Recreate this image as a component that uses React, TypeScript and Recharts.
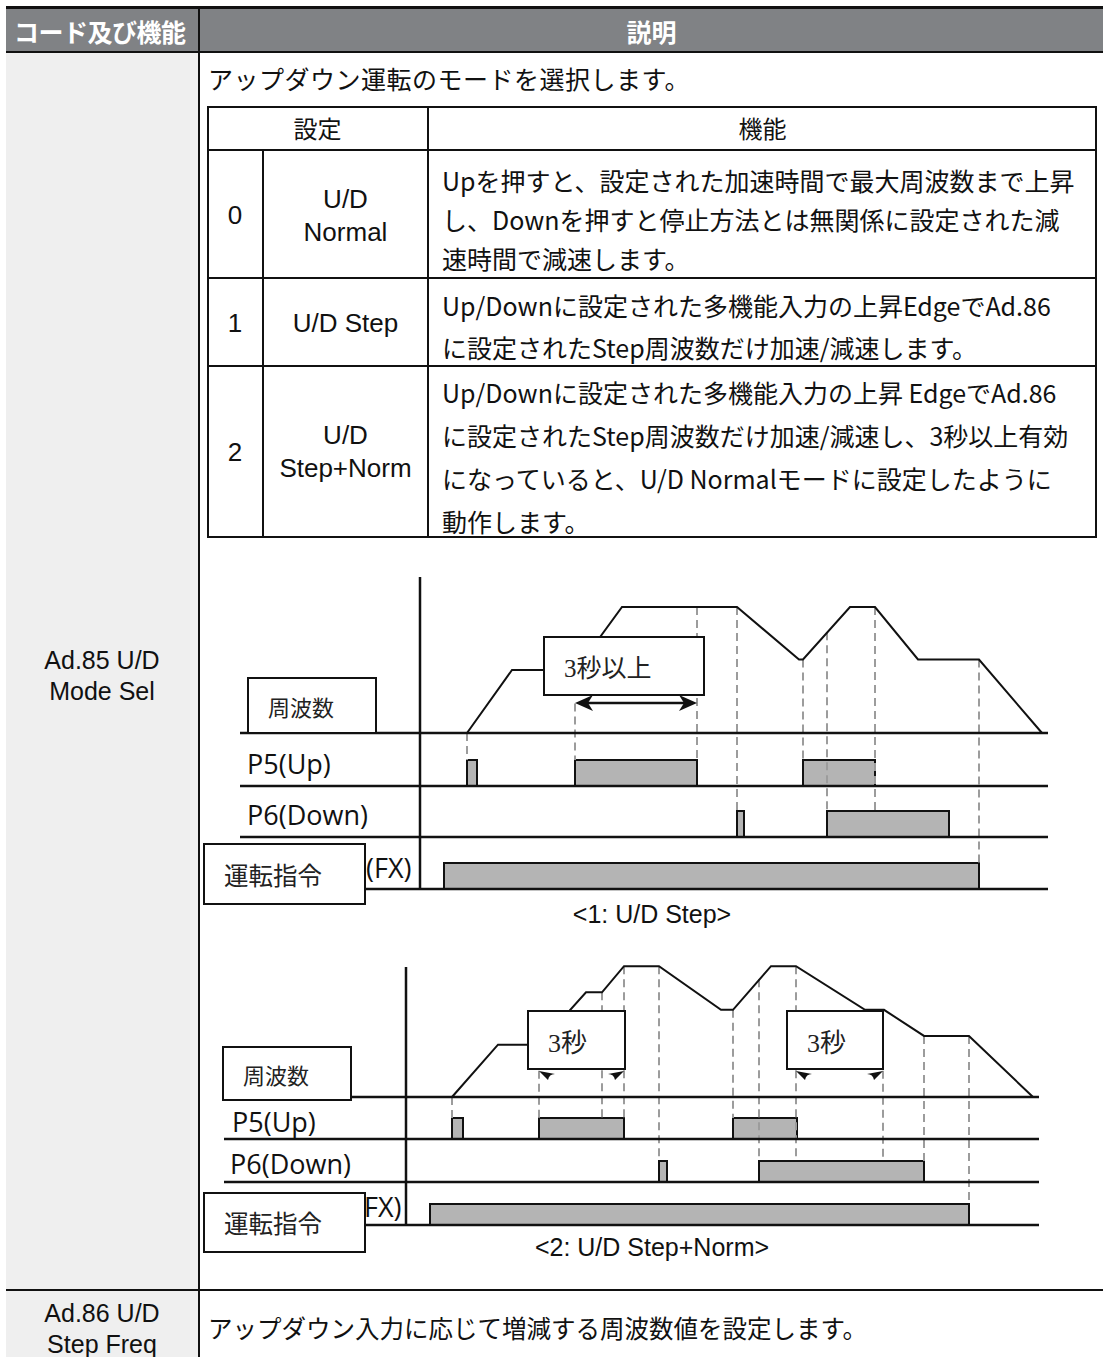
import React from "react";
import { ComposedChart, Line, XAxis, YAxis, ReferenceLine, ReferenceArea } from "recharts";

// <1: U/D Step> — time (s-ish units) and output frequency (Hz)
const step1Time = [4.7, 9.2, 15.6, 20.2, 31.7, 37.9, 38.3, 43.0, 45.5, 49.8, 55.9, 62.2];
const step1Freq = [0, 30, 30, 60, 60, 35, 35, 60, 60, 35, 35, 0];
const step1Up = [[4.7, 5.7], [15.5, 27.7], [38.3, 45.5]];
const step1Down = [[31.7, 32.4], [40.7, 52.9]];
const step1Run = [[2.4, 55.9]];
const step1GuideTime = [4.7, 15.5, 27.7, 31.7, 38.3, 40.7, 45.5, 55.9];
const step1GuideFreq = [0, 14, 60, 60, 35, 48, 60, 35];
const step1GuideTo = ["up", "up", "up", "down", "up", "down", "down", "run"];
const step1Spans = [[15.5, 27.7]];

// <2: U/D Step+Norm>
const step2Time = [4.6, 9.2, 13.3, 18.0, 19.6, 21.8, 25.3, 31.5, 32.7, 36.5, 39.0, 45.9, 47.8, 51.8, 56.3, 62.7];
const step2Freq = [0, 24, 24, 48, 48, 60, 60, 40, 40, 60, 60, 40, 40, 28, 28, 0];
const step2Up = [[4.6, 5.7], [13.3, 21.8], [32.7, 39.1]];
const step2Down = [[25.3, 26.1], [35.3, 51.8]];
const step2Run = [[2.4, 56.3]];
const step2GuideTime = [4.6, 13.3, 19.6, 21.8, 25.3, 32.7, 35.3, 39.0, 47.7, 51.8, 56.3];
const step2GuideFreq = [0, 12, 48, 60, 60, 40, 54, 60, 12, 28, 28];
const step2GuideTo = ["up", "up", "up", "up", "down", "up", "down", "down", "down", "down", "run"];
const step2Spans = [[13.3, 21.8], [39.0, 47.7]];

// table text
const modeNums = ["0", "1", "2"];
const modeNames = [["U/D", "Normal"], ["U/D Step"], ["U/D", "Step+Norm"]];
const modeDesc = [
  ["Upを押すと、設定された加速時間で最大周波数まで上昇", "し、Downを押すと停止方法とは無関係に設定された減", "速時間で減速します。"],
  ["Up/Downに設定された多機能入力の上昇EdgeでAd.86", "に設定されたStep周波数だけ加速/減速します。"],
  ["Up/Downに設定された多機能入力の上昇 EdgeでAd.86", "に設定されたStep周波数だけ加速/減速し、3秒以上有効", "になっていると、U/D Normalモードに設定したように", "動作します。"],
];

const CJK = '"Noto Sans CJK JP", sans-serif';
const ARIAL = '"Liberation Sans", Arial, sans-serif';
const HUMAN = '"Open Sans", "Noto Sans", sans-serif';
const SERIF = '"Liberation Serif", "Noto Sans CJK JP", serif';
const INK = "#111";

const L1 = { left: 240, top: 570, width: 808, height: 330, t0: -18, t1: 62.8, axisTop: 323, fBase: 167, upBase: 114, downBase: 63, runBase: 11, pulseH: 26, k: 2.1, arrowY: 197, arrow: "double" };
const L2 = { left: 224, top: 960, width: 815, height: 270, t0: -18.2, t1: 63.3, axisTop: 263, fBase: 133, upBase: 91, downBase: 48, runBase: 5, pulseH: 21, k: 2.18, arrowY: 158, arrow: "wedge" };

function Timing({ time, freq, up, down, run, guideTime, guideFreq, guideTo, spans, L }: any) {
  const line = time.map((t: number, i: number) => ({ t, y: L.fBase + freq[i] * L.k }));
  const base: any = { up: L.upBase, down: L.downBase, run: L.runBase };

  const pulses = (list: number[][], b: number, key: string) =>
    list.map(([a, z], i) => (
      <ReferenceArea key={key + i} x1={a} x2={z} y1={b} y2={b + L.pulseH} fill="#b4b4b4" fillOpacity={1} stroke={INK} strokeWidth={2} ifOverflow="visible" />
    ));

  const arrows: any[] = [];
  spans.forEach(([a, b]: number[], i: number) => {
    if (L.arrow === "double") {
      arrows.push(
        <ReferenceLine
          key={"ar" + i}
          segment={[{ x: a, y: L.arrowY }, { x: b, y: L.arrowY }]}
          stroke={INK}
          ifOverflow="visible"
          shape={(p: any) => (
            <g>
              <line x1={p.x1 + 8} y1={p.y1} x2={p.x2 - 8} y2={p.y2} stroke={INK} strokeWidth={2.5} />
              <path d={`M${p.x1},${p.y1} L${p.x1 + 18},${p.y1 - 8} L${p.x1 + 13},${p.y1} L${p.x1 + 18},${p.y1 + 8} Z`} fill={INK} />
              <path d={`M${p.x2},${p.y2} L${p.x2 - 18},${p.y2 - 8} L${p.x2 - 13},${p.y2} L${p.x2 - 18},${p.y2 + 8} Z`} fill={INK} />
            </g>
          )}
        />
      );
    } else {
      arrows.push(
        <ReferenceLine
          key={"wl" + i}
          segment={[{ x: a, y: L.arrowY }, { x: a + 1.6, y: L.arrowY }]}
          ifOverflow="visible"
          shape={(p: any) => (
            <path d={`M${p.x1},${p.y1 - 1} L${p.x2},${p.y1 + 2} Q${p.x1 + 10},${p.y1 + 2} ${p.x1 + 9},${p.y1 + 8} Z`} fill={INK} />
          )}
        />,
        <ReferenceLine
          key={"wr" + i}
          segment={[{ x: b - 1.6, y: L.arrowY }, { x: b, y: L.arrowY }]}
          ifOverflow="visible"
          shape={(p: any) => (
            <path d={`M${p.x2},${p.y2 - 1} L${p.x1},${p.y2 + 2} Q${p.x2 - 10},${p.y2 + 2} ${p.x2 - 9},${p.y2 + 8} Z`} fill={INK} />
          )}
        />
      );
    }
  });

  return (
    <div style={{ position: "absolute", left: L.left, top: L.top }}>
      <ComposedChart width={L.width} height={L.height} margin={{ top: 0, right: 0, bottom: 0, left: 0 }}>
        <XAxis type="number" dataKey="t" domain={[L.t0, L.t1]} hide allowDataOverflow />
        <YAxis type="number" domain={[0, L.height]} hide allowDataOverflow />
        {guideTime.map((t: number, i: number) => (
          <ReferenceLine
            key={"g" + i}
            segment={[{ x: t, y: L.fBase + guideFreq[i] * L.k }, { x: t, y: base[guideTo[i]] + L.pulseH }]}
            stroke="#9c9c9c"
            strokeWidth={2}
            strokeDasharray="8 5"
            ifOverflow="visible"
          />
        ))}
        {pulses(up, L.upBase, "u")}
        {pulses(down, L.downBase, "d")}
        {pulses(run, L.runBase, "r")}
        {[L.fBase, L.upBase, L.downBase, L.runBase].map((y, i) => (
          <ReferenceLine key={"lane" + i} y={y} stroke={INK} strokeWidth={2.5} />
        ))}
        <ReferenceLine segment={[{ x: 0, y: L.axisTop }, { x: 0, y: L.runBase }]} stroke={INK} strokeWidth={2.5} />
        <Line data={line} dataKey="y" type="linear" stroke={INK} strokeWidth={2} dot={false} isAnimationActive={false} />
        {arrows}
      </ComposedChart>
    </div>
  );
}

function Abs({ x, y, w, h, style, children }: any) {
  return <div style={{ position: "absolute", left: x, top: y, width: w, height: h, boxSizing: "border-box", ...style }}>{children}</div>;
}

function Txt({ x, cy, size, font, lh, children, w, align, style }: any) {
  const h = lh || Math.round(size * 1.4);
  return (
    <div style={{ position: "absolute", left: x, top: cy - h / 2, width: w, textAlign: align || "left", fontSize: size, fontFamily: font, lineHeight: h + "px", whiteSpace: "nowrap", color: INK, ...style }}>
      {children}
    </div>
  );
}

function LabelBox({ x, y, w, h, size, children }: any) {
  return (
    <Abs x={x} y={y} w={w} h={h} style={{ border: `2px solid ${INK}`, background: "#fff", fontFamily: SERIF, fontSize: size, color: "#222", display: "flex", alignItems: "center", paddingLeft: 19, whiteSpace: "nowrap" }}>
      {children}
    </Abs>
  );
}

export default function App() {
  const rowTops = [149, 277, 365, 538];
  const descFirst = [180, 305, 392];
  const descLh = [39, 42, 43];
  const nameFirst = [199, 323, 435];
  const numCy = [215, 323, 452];

  return (
    <div style={{ position: "absolute", left: 0, top: 0, width: 1103, height: 1357, overflow: "hidden", background: "#fff" }}>
      {/* outer table */}
      <Abs x={6} y={6} w={1097} h={3} style={{ background: INK }} />
      <Abs x={6} y={9} w={1097} h={42} style={{ background: "#808285" }} />
      <Abs x={6} y={51} w={1097} h={2} style={{ background: INK }} />
      <Abs x={6} y={53} w={192} h={1304} style={{ background: "#efefef" }} />
      <Abs x={198} y={6} w={2} h={1351} style={{ background: INK }} />
      <Abs x={6} y={1289} w={1097} h={2} style={{ background: INK }} />

      <Txt x={14} cy={31} size={25} font={CJK} style={{ color: "#fff", fontWeight: 700, letterSpacing: -0.5 }}>コード及び機能</Txt>
      <Txt x={200} w={903} align="center" cy={31} size={25} font={CJK} style={{ color: "#fff", fontWeight: 700 }}>説明</Txt>

      <Txt x={208} cy={78} size={25} font={CJK} style={{ letterSpacing: 0.5 }}>アップダウン運転のモードを選択します。</Txt>

      {/* inner settings table */}
      <Abs x={207} y={106} w={890} h={432} style={{ border: `2px solid ${INK}` }} />
      {rowTops.slice(0, 3).map((y, i) => (
        <Abs key={"rl" + i} x={207} y={y} w={890} h={2} style={{ background: INK }} />
      ))}
      <Abs x={427} y={106} w={2} h={432} style={{ background: INK }} />
      <Abs x={262} y={149} w={2} h={389} style={{ background: INK }} />
      <Txt x={207} w={221} align="center" cy={128} size={24} font={CJK}>設定</Txt>
      <Txt x={428} w={669} align="center" cy={128} size={24} font={CJK}>機能</Txt>

      {modeNums.map((n, i) => (
        <Txt key={"n" + i} x={207} w={56} align="center" cy={numCy[i]} size={26} font={ARIAL}>{n}</Txt>
      ))}
      {modeNames.map((lines, i) =>
        lines.map((s, j) => (
          <Txt key={"m" + i + j} x={263} w={165} align="center" cy={(lines.length === 1 ? numCy[i] : nameFirst[i]) + j * 33} lh={33} size={26} font={ARIAL}>{s}</Txt>
        ))
      )}
      {modeDesc.map((lines, i) =>
        lines.map((s, j) => (
          <Txt key={"d" + i + j} x={442} cy={descFirst[i] + j * descLh[i]} lh={descLh[i]} size={25} font={CJK}>{s}</Txt>
        ))
      )}

      {/* left column labels */}
      <Txt x={6} w={192} align="center" cy={660} lh={31} size={25} font={ARIAL}>Ad.85 U/D</Txt>
      <Txt x={6} w={192} align="center" cy={691} lh={31} size={25} font={ARIAL}>Mode Sel</Txt>
      <Txt x={6} w={192} align="center" cy={1313} lh={31} size={25} font={ARIAL}>Ad.86 U/D</Txt>
      <Txt x={6} w={192} align="center" cy={1344} lh={31} size={25} font={ARIAL}>Step Freq</Txt>
      <Txt x={208} cy={1328} size={24.5} font={CJK}>アップダウン入力に応じて増減する周波数値を設定します。</Txt>

      {/* diagram 1 */}
      <Timing time={step1Time} freq={step1Freq} up={step1Up} down={step1Down} run={step1Run} guideTime={step1GuideTime} guideFreq={step1GuideFreq} guideTo={step1GuideTo} spans={step1Spans} L={L1} />
      <LabelBox x={247} y={677} w={130} h={57} size={22}>周波数</LabelBox>
      <LabelBox x={543} y={636} w={162} h={60} size={25}>3秒以上</LabelBox>
      <Txt x={247} cy={764} size={27} font={HUMAN}>P5(Up)</Txt>
      <Txt x={247} cy={815} size={27} font={HUMAN}>P6(Down)</Txt>
      <Txt x={366} cy={868} size={27} font={HUMAN}>(FX)</Txt>
      <LabelBox x={203} y={843} w={163} h={62} size={24.5}>運転指令</LabelBox>
      <Txt x={452} w={400} align="center" cy={914} size={25} font={ARIAL}>{"<1: U/D Step>"}</Txt>

      {/* diagram 2 */}
      <Timing time={step2Time} freq={step2Freq} up={step2Up} down={step2Down} run={step2Run} guideTime={step2GuideTime} guideFreq={step2GuideFreq} guideTo={step2GuideTo} spans={step2Spans} L={L2} />
      <LabelBox x={222} y={1046} w={130} h={55} size={22}>周波数</LabelBox>
      <LabelBox x={527} y={1010} w={99} h={60} size={26}>3秒</LabelBox>
      <LabelBox x={786} y={1010} w={98} h={60} size={26}>3秒</LabelBox>
      <Txt x={232} cy={1122} size={27} font={HUMAN}>P5(Up)</Txt>
      <Txt x={230} cy={1164} size={27} font={HUMAN}>P6(Down)</Txt>
      <Txt x={356} cy={1207} size={27} font={HUMAN}>(FX)</Txt>
      <LabelBox x={203} y={1192} w={163} h={61} size={24.5}>運転指令</LabelBox>
      <Txt x={452} w={400} align="center" cy={1247} size={25} font={ARIAL}>{"<2: U/D Step+Norm>"}</Txt>
    </div>
  );
}
